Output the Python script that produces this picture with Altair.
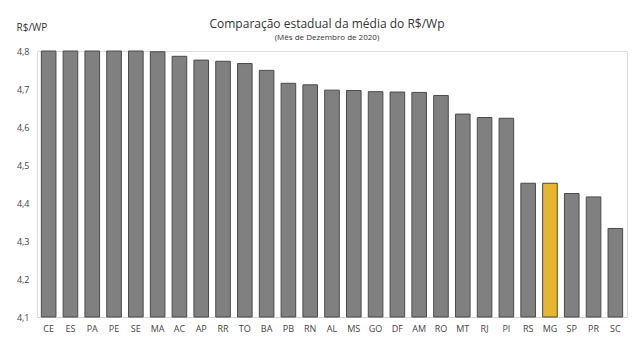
import altair as alt
import pandas as pd

states = ["CE", "ES", "PA", "PE", "SE", "MA", "AC", "AP", "RR", "TO", "BA", "PB", "RN",
          "AL", "MS", "GO", "DF", "AM", "RO", "MT", "RJ", "PI", "RS", "MG", "SP", "PR", "SC"]
values = [4.80, 4.80, 4.80, 4.80, 4.80, 4.798, 4.786, 4.776, 4.773, 4.767, 4.749, 4.715, 4.711,
          4.697, 4.696, 4.693, 4.692, 4.691, 4.683, 4.634, 4.625, 4.623, 4.452, 4.452, 4.425, 4.416, 4.333]
highlight = ["MG"]
y_ticks = [4.1, 4.2, 4.3, 4.4, 4.5, 4.6, 4.7, 4.8]

df = pd.DataFrame({"estado": states, "valor": values})
df["destaque"] = df["estado"].isin(highlight)

FONT = "Open Sans"

chart = alt.Chart(df).mark_bar(stroke="#4a4a4a", strokeWidth=1).encode(
    x=alt.X("estado:N", sort=states,
            scale=alt.Scale(paddingInner=0.33, paddingOuter=0.2),
            axis=alt.Axis(title=None, labelAngle=0, labelColor="#444", labelFontSize=9,
                          labelFont=FONT, ticks=False, domainColor="#d0d0d0",
                          labelPadding=7)),
    y=alt.Y("valor:Q", scale=alt.Scale(domain=[4.1, 4.8], zero=False, nice=False),
            axis=alt.Axis(values=y_ticks, grid=False, ticks=False, domain=False,
                          labelExpr="replace(format(datum.value, '.1f'), '.', ',')",
                          labelColor="#444", labelFontSize=9, labelFont=FONT,
                          labelPadding=8,
                          title="R$/WP", titleAngle=0, titleAlign="left",
                          titleBaseline="middle", titleX=-21, titleY=-24,
                          titleFontWeight="normal", titleFontSize=10,
                          titleColor="#333", titleFont=FONT)),
    y2=alt.datum(4.1),
    color=alt.Color("destaque:N", scale=alt.Scale(domain=[False, True],
                                                  range=["#808080", "#e8b531"]),
                    legend=None),
).properties(
    width=590,
    height=266,
    title=alt.TitleParams(
        text="Comparação estadual da média do R$/Wp",
        subtitle="(Mês de Dezembro de 2020)",
        anchor="middle", frame="group", fontSize=12, fontWeight="normal",
        color="#333", font=FONT, subtitleFont=FONT, subtitleFontSize=8,
        subtitleColor="#333", offset=12, subtitlePadding=3, dx=-5, dy=33,
    ),
    autosize=alt.AutoSizeParams(type="none"),
    padding={"left": 37, "top": 51, "right": 13, "bottom": 33},
).configure_view(stroke=None).configure(background="white")

chart.save("out.html", embed_options={"renderer": "svg", "actions": False})
